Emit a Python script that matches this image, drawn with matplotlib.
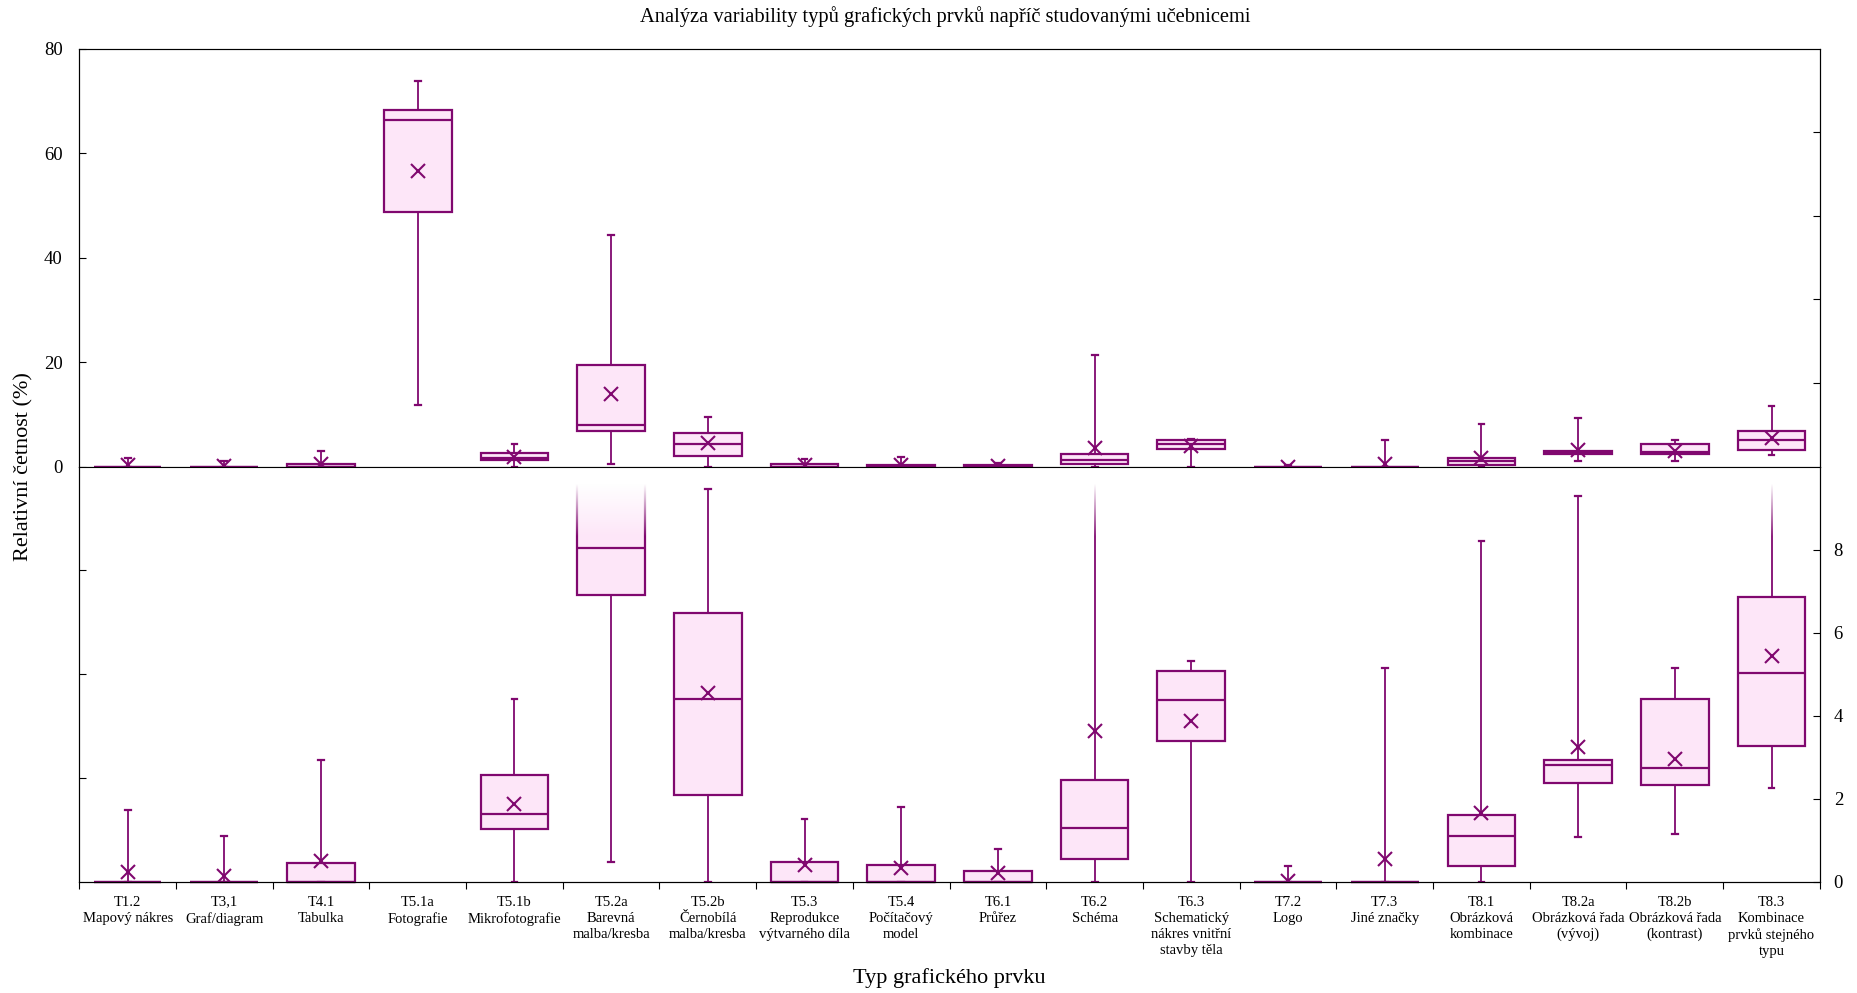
import numpy as np
import matplotlib.pyplot as plt

plt.rcParams['font.family'] = ['Liberation Serif', 'DejaVu Serif']

# kategorie grafických prvků
categories = [
    "T1.2\nMapový nákres", "T3,1\nGraf/diagram", "T4.1\nTabulka",
    "T5.1a\nFotografie", "T5.1b\nMikrofotografie", "T5.2a\nBarevná\nmalba/kresba",
    "T5.2b\nČernobílá\nmalba/kresba", "T5.3\nReprodukce\nvýtvarného díla",
    "T5.4\nPočítačový\nmodel", "T6.1\nPrůřez", "T6.2\nSchéma",
    "T6.3\nSchematický\nnákres vnitřní\nstavby těla", "T7.2\nLogo",
    "T7.3\nJiné značky", "T8.1\nObrázková\nkombinace",
    "T8.2a\nObrázková řada\n(vývoj)", "T8.2b\nObrázková řada\n(kontrast)",
    "T8.3\nKombinace\nprvků stejného\ntypu",
]

# statistiky krabicových grafů (%)
q1 = [0, 0, 0, 48.7, 1.26, 6.90, 2.10, 0, 0, 0, 0.56, 3.38, 0, 0, 0.37, 2.37, 2.34, 3.27]
med = [0, 0, 0, 66.3, 1.64, 8.03, 4.41, 0, 0, 0, 1.29, 4.37, 0, 0, 1.10, 2.81, 2.73, 5.04]
q3 = [0, 0, 0.46, 68.2, 2.57, 19.4, 6.47, 0.48, 0.41, 0.25, 2.45, 5.09, 0, 0, 1.60, 2.94, 4.41, 6.87]
whislo = [0, 0, 0, 11.9, 0, 0.48, 0, 0, 0, 0, 0, 0, 0, 0, 0, 1.08, 1.15, 2.25]
whishi = [1.72, 1.10, 2.93, 73.75, 4.41, 44.3, 9.47, 1.52, 1.79, 0.79, 21.3, 5.32, 0.38, 5.15, 8.20, 9.30, 5.15, 11.6]
means = [0.24, 0.15, 0.49, 56.5, 1.87, 13.9, 4.54, 0.41, 0.34, 0.20, 3.63, 3.87, 0.03, 0.56, 1.65, 3.25, 2.97, 5.44]

EDGE = '#80086f'
FILL = '#fde6f8'


def build_stats():
    stats = []
    for i in range(len(categories)):
        stats.append({'q1': q1[i], 'med': med[i], 'q3': q3[i],
                      'whislo': whislo[i], 'whishi': whishi[i],
                      'mean': means[i], 'fliers': []})
    return stats


def draw_boxes(ax, stats, positions):
    return ax.bxp(stats, positions=positions, widths=0.7, patch_artist=True,
                  showmeans=True, showfliers=False, capwidths=0.06,
                  boxprops=dict(facecolor=FILL, edgecolor=EDGE, linewidth=1.6),
                  medianprops=dict(color=EDGE, linewidth=1.6),
                  whiskerprops=dict(color=EDGE, linewidth=1.3),
                  capprops=dict(color=EDGE, linewidth=1.6),
                  meanprops=dict(marker='x', markeredgecolor=EDGE, markersize=9.5,
                                 markeredgewidth=1.5))


fig = plt.figure(figsize=(18.57, 9.93), dpi=100)
left, right = 0.0427, 0.980
ax_top = fig.add_axes([left, 0.530, right - left, 0.951 - 0.530])
ax_bot = fig.add_axes([left, 0.112, right - left, 0.530 - 0.112])

n = len(categories)
pos = np.arange(n)
stats = build_stats()

# horní panel: 0-80 %
draw_boxes(ax_top, stats, pos)
ax_top.set_ylim(0, 80)
ax_top.set_xlim(-0.5, n - 0.5)
ax_top.set_xticks([])
ax_top.set_yticks(np.arange(0, 81, 20))
ax_top.tick_params(axis='y', direction='in', labelsize=13.5, length=5, pad=12)
axr = ax_top.twinx()
axr.set_ylim(0, 80)
axr.set_yticks([16, 32, 48, 64])
axr.set_yticklabels([])
axr.tick_params(direction='in', length=5)
ax_top.spines['top'].set_color('#555555')

# dolní panel: detail 0-10 %
parts = draw_boxes(ax_bot, stats, pos)
for i in range(n):
    # nulové krabice nechat vykreslit celou tloušťkou čáry
    if q1[i] == 0 and q3[i] < 10:
        parts['boxes'][i].set_clip_on(False)
        parts['medians'][i].set_clip_on(False)
ax_bot.set_ylim(0, 10)
ax_bot.set_xlim(-0.5, n - 0.5)
ax_bot.spines['top'].set_visible(False)
ax_bot.set_yticks([2.5, 5, 7.5])
ax_bot.set_yticklabels([])
ax_bot.tick_params(axis='y', direction='in', length=5)
ax_bot.set_xticks(np.arange(n + 1) - 0.5)
ax_bot.set_xticklabels([])
ax_bot.tick_params(axis='x', direction='out', length=5)
ax_bot.set_xticks(pos, minor=True)
ax_bot.set_xticklabels(categories, minor=True, fontsize=10.5, linespacing=1.3)
ax_bot.tick_params(axis='x', which='minor', length=0, pad=10)
axbr = ax_bot.twinx()
axbr.set_ylim(0, 10)
axbr.set_yticks(np.arange(0, 9, 2))
axbr.tick_params(direction='in', labelsize=13.5, length=5, pad=10)
axbr.spines['top'].set_visible(False)

# prolnutí do bílé u hodnot přesahujících rozsah dolního panelu
grad = np.ones((100, 1, 4))
alpha = np.clip((np.linspace(8.3, 10, 100) - 8.3) / (9.57 - 8.3), 0, 1)
grad[:, 0, 3] = alpha
for i in range(n):
    if max(q3[i], whishi[i]) > 10 and med[i] < 10:
        ax_bot.imshow(grad, extent=(i - 0.42, i + 0.42, 8.3, 10), origin='lower',
                      aspect='auto', zorder=5, interpolation='bilinear')
ax_bot.set_xlim(-0.5, n - 0.5)
ax_bot.set_ylim(0, 10)

fig.text(0.509, 0.983, "Analýza variability typů grafických prvků napříč studovanými učebnicemi",
         ha='center', va='center', fontsize=14.8)
fig.text(0.013, 0.530, "Relativní četnost (%)", rotation=90, ha='center', va='center',
         fontsize=16)
fig.text(0.5114, 0.015, "Typ grafického prvku", ha='center', va='center', fontsize=16)

fig.savefig('out.png', dpi=100)
